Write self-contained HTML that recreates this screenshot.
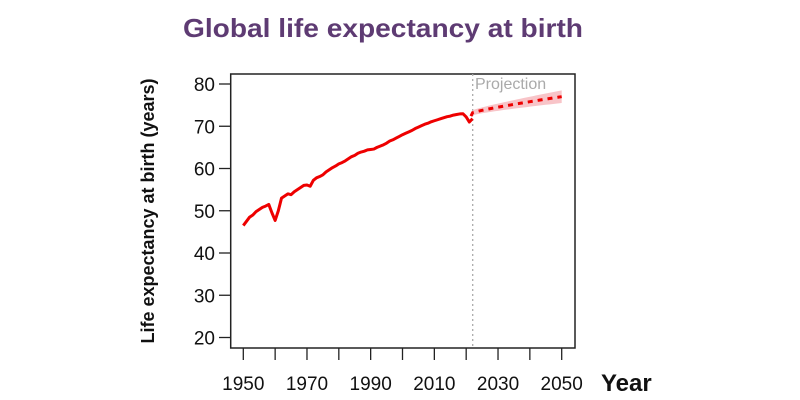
<!DOCTYPE html>
<html><head><meta charset="utf-8"><style>
html,body{margin:0;padding:0;background:#fff;}
svg{display:block;font-family:"Liberation Sans",Arial,sans-serif;}
</style></head><body>
<svg id="s" width="800" height="400" viewBox="0 0 800 400" xmlns="http://www.w3.org/2000/svg">
<text x="183" y="37" font-size="26" font-weight="bold" fill="#5e3b73" textLength="400" lengthAdjust="spacingAndGlyphs">Global life expectancy at birth</text>
<rect x="230.7" y="74" width="344.3" height="274" fill="none" stroke="#222" stroke-width="1.5"/>
<line x1="472.7" y1="74" x2="472.7" y2="348" stroke="#aaa" stroke-width="1.3" stroke-dasharray="2,3"/>
<text x="475" y="89" font-size="16" fill="#aaa">Projection</text>
<g id="g"></g>
<text x="0" y="0" font-size="18" font-weight="bold" fill="#111" transform="translate(154,211) rotate(-90)" text-anchor="middle" textLength="265" lengthAdjust="spacingAndGlyphs">Life expectancy at birth (years)</text>
<text x="601" y="391" font-size="24" font-weight="bold" fill="#111">Year</text>
</svg>
<script>
var g=document.getElementById('g'),ns='http://www.w3.org/2000/svg';
function X(y){return 243.3+(y-1950)*3.184}
function Y(v){return 84+(80-v)*4.225}
function el(t,a){var e=document.createElementNS(ns,t);for(var k in a)e.setAttribute(k,a[k]);g.appendChild(e);return e}
for(var v=20;v<=80;v+=10){el('line',{x1:219,x2:230.7,y1:Y(v),y2:Y(v),stroke:'#222','stroke-width':1.3});
var t=el('text',{x:215,y:Y(v)+7,'font-size':19,'text-anchor':'end',fill:'#111'});t.textContent=v;}
for(var yr=1950;yr<=2050;yr+=10){el('line',{x1:X(yr),x2:X(yr),y1:348,y2:360,stroke:'#222','stroke-width':1.3});
if((yr-1950)%20==0){var t=el('text',{x:X(yr),y:390,'font-size':19,'text-anchor':'middle',fill:'#111'});t.textContent=yr;}}
var d=[[1950,46.5],[1951,47.5],[1952,48.5],[1953,49],[1954,49.8],[1955,50.3],[1956,50.8],[1957,51.1],[1958,51.5],[1959,49.5],[1960,47.7],[1961,50],[1962,53],[1963,53.5],[1964,54],[1965,53.8],[1966,54.5],[1967,55],[1968,55.5],[1969,56],[1970,56.1],[1971,55.8],[1972,57.2],[1973,57.8],[1974,58.1],[1975,58.5],[1976,59.2],[1977,59.7],[1978,60.2],[1979,60.6],[1980,61.1],[1981,61.4],[1982,61.8],[1983,62.3],[1984,62.8],[1985,63.1],[1986,63.6],[1987,63.9],[1988,64.1],[1989,64.4],[1990,64.5],[1991,64.6],[1992,65],[1993,65.3],[1994,65.6],[1995,66],[1996,66.5],[1997,66.8],[1998,67.2],[1999,67.6],[2000,68],[2001,68.4],[2002,68.8],[2003,69.2],[2004,69.7],[2005,70.1],[2006,70.5],[2007,70.9],[2008,71.2],[2009,71.6],[2010,71.9],[2011,72.2],[2012,72.5],[2013,72.8],[2014,73.1],[2015,73.3],[2016,73.6],[2017,73.8],[2018,74],[2019,74.1],[2020,72.8],[2021,71.5],[2022,72.5]];
d=d.map(function(p){var v=p[1];if(p[0]>2000)v-= (p[0]-2000)*0.06; if(p[0]>=2020)v=[72.2,71,71.8][p[0]-2020];return [p[0],v]});
el('polyline',{points:d.map(function(p){return X(p[0])+','+Y(p[1])}).join(' '),fill:'none',stroke:'#e00','stroke-width':3,'stroke-linejoin':'round'});
var up=[],lo=[],mid=[];
for(var yr=2022;yr<=2050;yr++){var f=(yr-2022)/28,m=73.2+3.8*Math.pow(f,0.85),w=0.6+0.9*f;up.push(X(yr)+','+Y(m+w));lo.unshift(X(yr)+','+Y(m-w));mid.push(X(yr)+','+Y(m));}
el('polygon',{points:up.concat(lo).join(' '),fill:'#f8c4c8'});
el('polyline',{points:[X(2021.5)+','+Y(72.4)].concat(mid).join(' '),fill:'none',stroke:'#e00','stroke-width':3,'stroke-dasharray':'5,5'});
</script>
</body></html>
